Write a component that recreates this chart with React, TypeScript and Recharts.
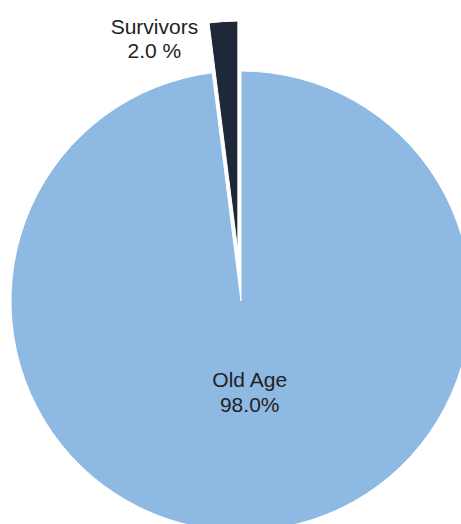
import React from "react";
import { PieChart, Pie, Cell } from "recharts";

const categories = ["Survivors", "Old Age"];
const shares = [2.0, 98.0];
const valueLabels = ["2.0 %", "98.0%"];
const colors = ["#1f2838", "#8db9e2"];
const explodeIndex = 0;

const data = categories.map((name, i) => ({ name, value: shares[i], label: valueLabels[i] }));

const WIDTH = 461;
const HEIGHT = 524;
const CX = 241;
const CY = 301;
const R = 230;
const EXPLODE = 50;
const START = 90;
const END = 450;
const FONT = "'Liberation Sans', Arial, Helvetica, sans-serif";
const RAD = Math.PI / 180;

// mid angle of exploded slice, computed from data
const total = shares.reduce((a, b) => a + b, 0);
const before = shares.slice(0, explodeIndex).reduce((a, b) => a + b, 0);
const midExploded = START + ((before + shares[explodeIndex] / 2) / total) * (END - START);
const cx2 = CX + EXPLODE * Math.cos(midExploded * RAD);
const cy2 = CY - EXPLODE * Math.sin(midExploded * RAD);

const insideLabel = (props: any) => {
  if (props.index === explodeIndex) return null;
  const { cx, cy, midAngle, index } = props;
  const r = 91;
  const x = cx + r * Math.cos(-midAngle * RAD) + 3;
  const y = cy + r * Math.sin(-midAngle * RAD);
  return (
    <text x={x} y={y} textAnchor="middle" fill="#222" fontFamily={FONT} fontSize={21}>
      <tspan x={x} y={y - 12} dominantBaseline="central">{data[index].name}</tspan>
      <tspan x={x} y={y + 13} dominantBaseline="central">{data[index].label}</tspan>
    </text>
  );
};

const outsideLabel = (props: any) => {
  if (props.index !== explodeIndex) return null;
  const { cx, cy, midAngle, outerRadius, index } = props;
  const ox = cx + outerRadius * Math.cos(-midAngle * RAD);
  const oy = cy + outerRadius * Math.sin(-midAngle * RAD);
  const x = ox - 69;
  const y = oy + 5;
  return (
    <text x={x} y={y} textAnchor="middle" fill="#222" fontFamily={FONT} fontSize={21}>
      <tspan x={x} y={y} dominantBaseline="central">{data[index].name}</tspan>
      <tspan x={x} y={y + 24} dominantBaseline="central">{data[index].label}</tspan>
    </text>
  );
};

export default function App() {
  return (
    <div
      style={{
        position: "absolute",
        left: 0,
        top: 0,
        width: WIDTH,
        height: HEIGHT,
        overflow: "hidden",
        background: "#fff",
      }}
    >
      <PieChart width={WIDTH} height={HEIGHT} margin={{ top: 0, right: 0, bottom: 0, left: 0 }}>
        <Pie
          data={data}
          dataKey="value"
          nameKey="name"
          cx={CX}
          cy={CY}
          outerRadius={R}
          startAngle={START}
          endAngle={END}
          isAnimationActive={false}
          stroke="#fff"
          strokeWidth={1}
          labelLine={false}
          label={insideLabel}
        >
          {data.map((d, i) => (
            <Cell
              key={d.name}
              fill={i === explodeIndex ? "none" : colors[i]}
              stroke={i === explodeIndex ? "none" : "#fff"}
            />
          ))}
        </Pie>
        <Pie
          data={data}
          dataKey="value"
          nameKey="name"
          cx={cx2}
          cy={cy2}
          outerRadius={R}
          startAngle={START}
          endAngle={END}
          isAnimationActive={false}
          stroke="#fff"
          strokeWidth={1}
          labelLine={false}
          label={outsideLabel}
        >
          {data.map((d, i) => (
            <Cell
              key={d.name}
              fill={i === explodeIndex ? colors[i] : "none"}
              stroke={i === explodeIndex ? "#fff" : "none"}
            />
          ))}
        </Pie>
      </PieChart>
    </div>
  );
}
